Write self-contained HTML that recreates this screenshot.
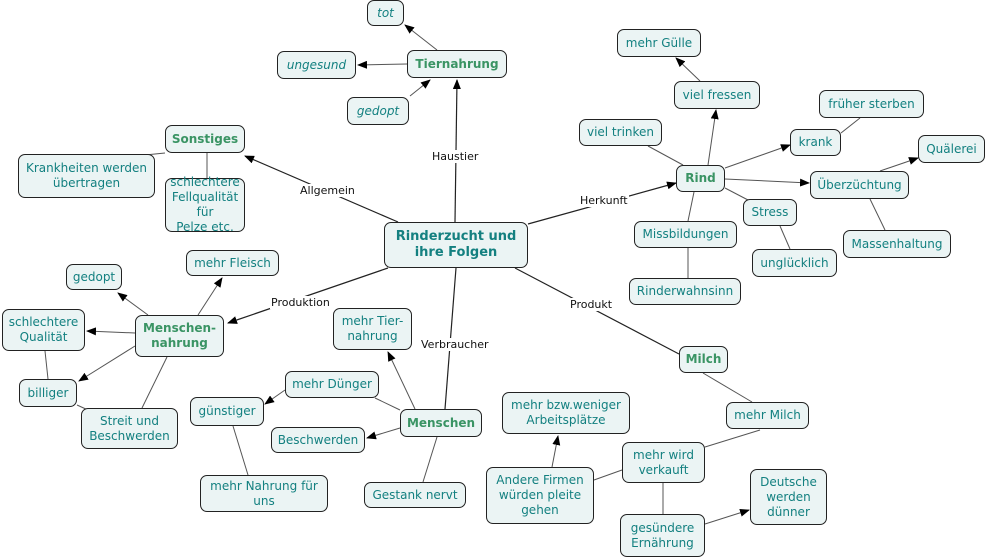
<!DOCTYPE html>
<html><head><meta charset="utf-8"><style>
body{margin:0;width:987px;height:560px;background:#fff;position:relative;overflow:hidden;font-family:"DejaVu Sans","Liberation Sans",sans-serif}
.n{position:absolute;box-sizing:border-box;border:1.3px solid #222;border-radius:7px;background:#ebf4f4;color:#138080;font-size:12px;display:flex;align-items:center;justify-content:center;text-align:center;line-height:15px}
.b{font-weight:bold;color:#3a9464}
.i{font-style:italic}
.l{position:absolute;font-size:11px;color:#111;background:#fff;padding:0 1px;line-height:13px}
svg{position:absolute;left:0;top:0}
</style></head><body>
<svg width="987" height="560">
<defs><marker id="a" markerWidth="10" markerHeight="8" refX="9" refY="4" orient="auto" markerUnits="userSpaceOnUse"><path d="M0,0L10,4L0,8z" fill="#000"/></marker></defs>
<g stroke="#222" stroke-width="1.2" fill="none">
<line x1="455" y1="222" x2="457" y2="80" marker-end="url(#a)"/>
<line x1="398" y1="222" x2="245" y2="156" marker-end="url(#a)"/>
<line x1="528" y1="224" x2="676" y2="183" marker-end="url(#a)"/>
<line x1="388" y1="268" x2="228" y2="323" marker-end="url(#a)"/>
<line x1="456" y1="268" x2="445" y2="409"/>
<line x1="515" y1="268" x2="679" y2="354"/>
</g>
<g stroke="#555" stroke-width="1" fill="none">
<line x1="437" y1="50" x2="405" y2="25" marker-end="url(#a)"/>
<line x1="407" y1="64" x2="358" y2="65" marker-end="url(#a)"/>
<line x1="410" y1="96" x2="430" y2="80" marker-end="url(#a)"/>
<line x1="165" y1="153" x2="135" y2="156"/>
<line x1="207" y1="153" x2="207" y2="178"/>
<line x1="700" y1="81" x2="676" y2="58" marker-end="url(#a)"/>
<line x1="708" y1="165" x2="716" y2="110" marker-end="url(#a)"/>
<line x1="648" y1="146" x2="683" y2="165"/>
<line x1="725" y1="168" x2="790" y2="145" marker-end="url(#a)"/>
<line x1="725" y1="179" x2="809" y2="183" marker-end="url(#a)"/>
<line x1="725" y1="188" x2="748" y2="200"/>
<line x1="694" y1="192" x2="688" y2="221"/>
<line x1="688" y1="248" x2="688" y2="278"/>
<line x1="841" y1="133" x2="860" y2="118"/>
<line x1="880" y1="171" x2="918" y2="158" marker-end="url(#a)"/>
<line x1="870" y1="199" x2="885" y2="230"/>
<line x1="780" y1="226" x2="790" y2="249"/>
<line x1="148" y1="315" x2="118" y2="293" marker-end="url(#a)"/>
<line x1="198" y1="315" x2="222" y2="278" marker-end="url(#a)"/>
<line x1="135" y1="333" x2="87" y2="331" marker-end="url(#a)"/>
<line x1="135" y1="346" x2="79" y2="381" marker-end="url(#a)"/>
<line x1="45" y1="351" x2="48" y2="379"/>
<line x1="167" y1="357" x2="142" y2="408"/>
<line x1="77" y1="405" x2="88" y2="410"/>
<line x1="415" y1="409" x2="388" y2="352" marker-end="url(#a)"/>
<line x1="400" y1="410" x2="375" y2="398"/>
<line x1="285" y1="390" x2="265" y2="404" marker-end="url(#a)"/>
<line x1="400" y1="428" x2="367" y2="438" marker-end="url(#a)"/>
<line x1="437" y1="437" x2="423" y2="482"/>
<line x1="233" y1="426" x2="248" y2="475"/>
<line x1="703" y1="373" x2="752" y2="402"/>
<line x1="760" y1="430" x2="705" y2="447"/>
<line x1="622" y1="470" x2="594" y2="480"/>
<line x1="552" y1="467" x2="558" y2="436" marker-end="url(#a)"/>
<line x1="663" y1="483" x2="663" y2="514"/>
<line x1="705" y1="524" x2="749" y2="510" marker-end="url(#a)"/>
</g>
</svg>
<div class="n b" style="left:384px;top:222px;width:144px;height:46px;color:#148080;font-size:13px;line-height:16px">Rinderzucht und<br>ihre Folgen</div>
<div class="n b" style="left:407px;top:50px;width:100px;height:28px">Tiernahrung</div>
<div class="n i" style="left:367px;top:0px;width:37px;height:26px">tot</div>
<div class="n i" style="left:277px;top:51px;width:79px;height:28px">ungesund</div>
<div class="n i" style="left:347px;top:97px;width:62px;height:28px">gedopt</div>
<div class="n b" style="left:165px;top:125px;width:80px;height:28px">Sonstiges</div>
<div class="n" style="left:18px;top:154px;width:137px;height:44px">Krankheiten werden<br>übertragen</div>
<div class="n" style="left:165px;top:178px;width:80px;height:54px">schlechtere<br>Fellqualität für<br>Pelze etc.</div>
<div class="n" style="left:617px;top:29px;width:84px;height:28px">mehr Gülle</div>
<div class="n" style="left:674px;top:81px;width:86px;height:28px">viel fressen</div>
<div class="n" style="left:819px;top:90px;width:105px;height:28px">früher sterben</div>
<div class="n" style="left:579px;top:119px;width:83px;height:27px">viel trinken</div>
<div class="n" style="left:790px;top:129px;width:51px;height:27px">krank</div>
<div class="n b" style="left:676px;top:165px;width:49px;height:27px">Rind</div>
<div class="n" style="left:918px;top:135px;width:67px;height:28px">Quälerei</div>
<div class="n" style="left:810px;top:171px;width:99px;height:28px">Überzüchtung</div>
<div class="n" style="left:743px;top:199px;width:54px;height:27px">Stress</div>
<div class="n" style="left:634px;top:221px;width:103px;height:27px">Missbildungen</div>
<div class="n" style="left:843px;top:230px;width:108px;height:28px">Massenhaltung</div>
<div class="n" style="left:752px;top:249px;width:85px;height:28px">unglücklich</div>
<div class="n" style="left:629px;top:278px;width:112px;height:27px">Rinderwahnsinn</div>
<div class="n" style="left:66px;top:264px;width:56px;height:26px">gedopt</div>
<div class="n" style="left:186px;top:250px;width:93px;height:26px">mehr Fleisch</div>
<div class="n" style="left:2px;top:309px;width:83px;height:42px">schlechtere<br>Qualität</div>
<div class="n b" style="left:135px;top:315px;width:89px;height:42px">Menschen-<br>nahrung</div>
<div class="n" style="left:19px;top:379px;width:58px;height:28px">billiger</div>
<div class="n" style="left:81px;top:408px;width:97px;height:41px">Streit und<br>Beschwerden</div>
<div class="n" style="left:333px;top:308px;width:79px;height:42px">mehr Tier-<br>nahrung</div>
<div class="n" style="left:285px;top:371px;width:94px;height:27px">mehr Dünger</div>
<div class="n" style="left:190px;top:397px;width:74px;height:29px">günstiger</div>
<div class="n" style="left:271px;top:427px;width:94px;height:26px">Beschwerden</div>
<div class="n b" style="left:400px;top:409px;width:82px;height:28px">Menschen</div>
<div class="n" style="left:200px;top:475px;width:128px;height:37px">mehr Nahrung für<br>uns</div>
<div class="n" style="left:364px;top:482px;width:102px;height:26px">Gestank nervt</div>
<div class="n b" style="left:679px;top:346px;width:49px;height:27px">Milch</div>
<div class="n" style="left:502px;top:392px;width:128px;height:42px">mehr bzw.weniger<br>Arbeitsplätze</div>
<div class="n" style="left:726px;top:402px;width:83px;height:27px">mehr Milch</div>
<div class="n" style="left:622px;top:442px;width:83px;height:41px">mehr wird<br>verkauft</div>
<div class="n" style="left:486px;top:467px;width:108px;height:57px">Andere Firmen<br>würden pleite<br>gehen</div>
<div class="n" style="left:750px;top:469px;width:77px;height:56px">Deutsche<br>werden<br>dünner</div>
<div class="n" style="left:620px;top:514px;width:85px;height:43px">gesündere<br>Ernährung</div>
<div class="l" style="left:431px;top:150px">Haustier</div>
<div class="l" style="left:299px;top:184px">Allgemein</div>
<div class="l" style="left:579px;top:194px">Herkunft</div>
<div class="l" style="left:270px;top:296px">Produktion</div>
<div class="l" style="left:420px;top:338px">Verbraucher</div>
<div class="l" style="left:569px;top:298px">Produkt</div>
</body></html>
